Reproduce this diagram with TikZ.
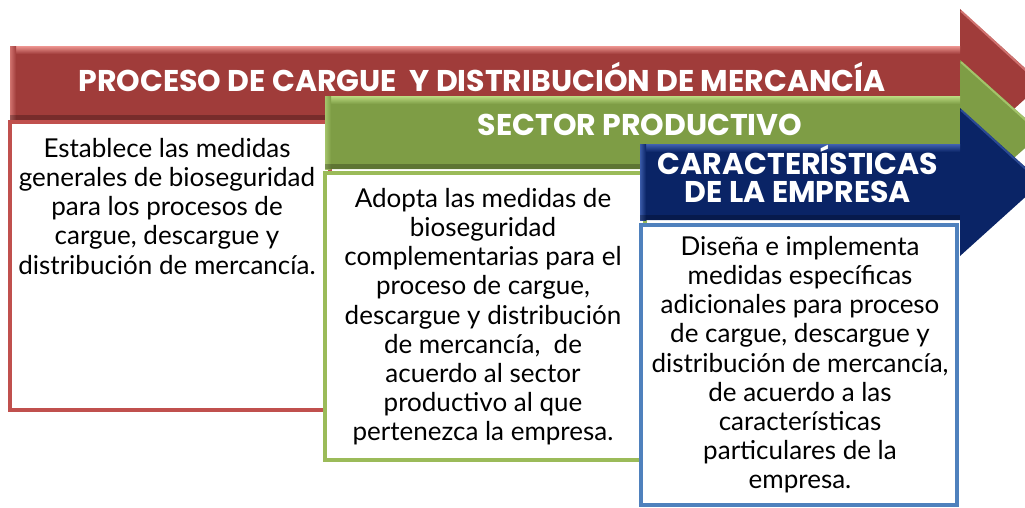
\documentclass[tikz,border=0pt]{standalone}
\usepackage{fontspec}
\setmainfont{Lato}
\newfontfamily\hdrfont{Poppins}
\begin{document}
\begin{tikzpicture}[x=1pt,y=-1pt,
  hdr/.style={text=white,font=\hdrfont\bfseries\fontsize{30}{28}\selectfont,align=center,inner sep=0pt},
  body/.style={text=black,font=\fontsize{26}{29.2}\selectfont,align=center,inner sep=0pt,anchor=north},
  boxline/.style={line width=4pt,fill=white}]
\definecolor{arrowred}{HTML}{A03C3A}
\definecolor{arrowgreen}{HTML}{7E9D45}
\definecolor{arrowblue}{HTML}{0A2466}
\definecolor{lred}{HTML}{E48A86}
\definecolor{lgreen}{HTML}{B4D47A}
\definecolor{lblue}{HTML}{3A5AA8}
\definecolor{boxred}{HTML}{C0504D}
\definecolor{boxgreen}{HTML}{9BBB59}
\definecolor{boxblue}{HTML}{4F81BD}
\useasboundingbox (0,0) rectangle (1025,508);
\clip (0,0) rectangle (1025,508);
% red arrow
\fill[arrowred] (10,47) -- (960,47) -- (960,9) -- (1042,83.5) -- (960,158) -- (960,120) -- (10,120) -- cycle;
\shade[top color=lred,bottom color=arrowred] (10,47) rectangle (960,54);
\shade[left color=lred!70!arrowred,right color=arrowred] (10,47) rectangle (16,120);
\fill[black,opacity=0.25] (10,115) rectangle (960,120);
\draw[lred,line width=2pt,opacity=0.7] (961,11) -- (1040,83.5);
\node[hdr] (t1) at (482,77) {PROCESO DE CARGUE\ \ Y DISTRIBUCIÓN DE MERCANCÍA};
% red box
\draw[boxline,draw=boxred] (10,122) rectangle (330,410);
\node[body] (b1) at (167,138) {Establece las medidas\\generales de bioseguridad\\para los procesos de\\cargue, descargue y\\distribución de mercancía.};
% green arrow
\fill[arrowgreen] (325,97) -- (960,97) -- (960,60) -- (1042,133) -- (960,206) -- (960,169) -- (325,169) -- cycle;
\shade[top color=lgreen,bottom color=arrowgreen] (325,97) rectangle (960,104);
\shade[left color=lgreen!70!arrowgreen,right color=arrowgreen] (325,97) rectangle (331,169);
\fill[black,opacity=0.25] (325,164) rectangle (960,169);
\draw[lgreen,line width=2pt,opacity=0.7] (961,62) -- (1040,133);
\node[hdr] (t2) at (640,125) {SECTOR PRODUCTIVO};
% green box
\draw[boxline,draw=boxgreen] (325,173) rectangle (645,460);
\node[body] (b2) at (483,188) {Adopta las medidas de\\bioseguridad\\complementarias para el\\proceso de cargue,\\descargue y distribución\\de mercancía,\ \ de\\acuerdo al sector\\productivo al que\\pertenezca la empresa.};
% blue arrow
\fill[arrowblue] (640,145) -- (960,145) -- (960,108) -- (1042,182) -- (960,256) -- (960,220) -- (640,220) -- cycle;
\shade[top color=lblue,bottom color=arrowblue] (640,145) rectangle (960,152);
\shade[left color=lblue,right color=arrowblue] (640,145) rectangle (646,220);
\fill[black,opacity=0.25] (640,215) rectangle (960,220);
\draw[lblue,line width=2pt,opacity=0.7] (961,110) -- (1040,182);
\node[hdr] (t3) at (798,174) {CARACTERÍSTICAS\\DE LA EMPRESA};
% blue box
\draw[boxline,draw=boxblue] (641,225) rectangle (957,505);
\node[body] (b3) at (800,236) {Diseña e implementa\\medidas específicas\\adicionales para proceso\\de cargue, descargue y\\distribución de mercancía,\\de acuerdo a las\\características\\particulares de la\\empresa.};
\end{tikzpicture}
\end{document}
